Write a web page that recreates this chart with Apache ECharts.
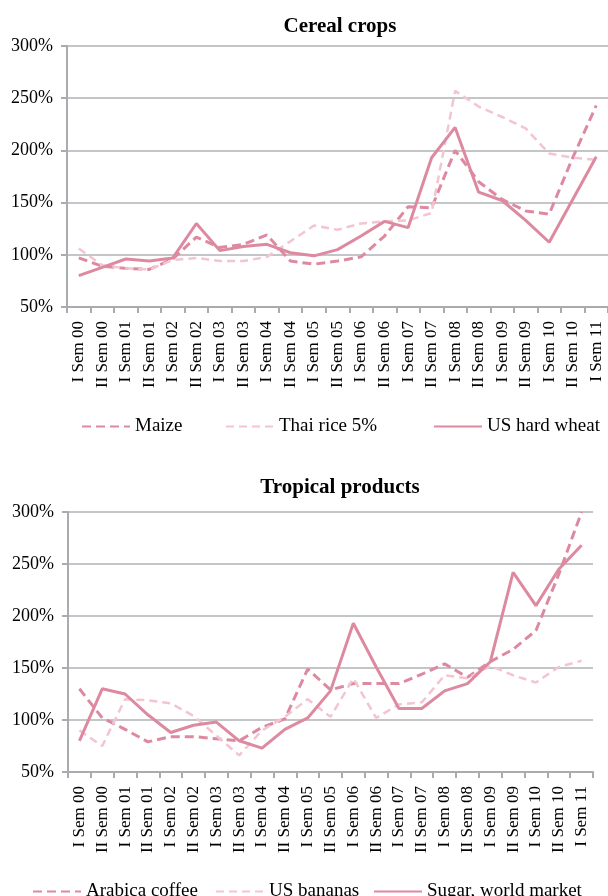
<!DOCTYPE html>
<html>
<head>
<meta charset="utf-8">
<script src="https://cdn.jsdelivr.net/npm/echarts@6/dist/echarts.min.js"></script>
<style>
html,body{margin:0;padding:0;background:#fff;}
#chart{width:608px;height:896px;}
</style>
</head>
<body>
<div id="chart"></div>
<script>
const categories = ['I Sem 00','II Sem 00','I Sem 01','II Sem 01','I Sem 02','II Sem 02','I Sem 03','II Sem 03','I Sem 04','II Sem 04','I Sem 05','II Sem 05','I Sem 06','II Sem 06','I Sem 07','II Sem 07','I Sem 08','II Sem 08','I Sem 09','II Sem 09','I Sem 10','II Sem 10','I Sem 11'];
const yTicks = [50, 100, 150, 200, 250, 300];

const cerealTitle = 'Cereal crops';
const maize = [97, 89, 87, 86, 96, 117, 107, 110, 119, 94, 91, 94, 98, 118, 146, 145, 200, 170, 153, 142, 139, 193, 243];
const thaiRice = [106, 90, 87, 86, 95, 97, 94, 94, 98, 113, 128, 124, 130, 132, 133, 140, 257, 242, 232, 221, 197, 193, 191];
const usWheat = [80, 88, 96, 94, 97, 130, 104, 108, 110, 102, 99, 105, 118, 132, 126, 193, 222, 160, 152, 133, 112, 153, 194];

const tropicalTitle = 'Tropical products';
const arabica = [130, 102, 91, 79, 84, 84, 82, 80, 93, 101, 149, 129, 135, 135, 135, 144, 154, 141, 156, 168, 186, 240, 300];
const bananas = [90, 75, 120, 119, 116, 104, 85, 66, 90, 103, 120, 103, 140, 102, 115, 117, 143, 140, 152, 143, 136, 151, 157];
const sugar = [80, 130, 125, 105, 88, 95, 98, 80, 73, 91, 102, 128, 193, 151, 111, 111, 128, 135, 156, 242, 210, 245, 268];

const FONT = 'Liberation Serif';
const DARK = '#dd8aa1';
const LIGHT = '#f3c4d1';

function xAxis(gridIndex) {
  return {
    type: 'category', gridIndex, data: categories, boundaryGap: true,
    axisLine: {lineStyle: {color: '#a9abae', width: 2}},
    axisTick: {show: true, interval: 0, length: 6, lineStyle: {color: '#a9abae', width: 2}},
    axisLabel: {interval: 0, rotate: 90, margin: 14, color: '#000', fontFamily: FONT, fontSize: 17}
  };
}
function yAxis(gridIndex) {
  return {
    type: 'value', gridIndex, min: yTicks[0], max: yTicks[yTicks.length - 1], interval: 50,
    axisLine: {show: true, lineStyle: {color: '#a9abae', width: 2}},
    axisTick: {show: true, length: 6, lineStyle: {color: '#a9abae', width: 2}},
    splitLine: {lineStyle: {color: '#c3c5c8', width: 2}},
    axisLabel: {formatter: '{value}%', margin: 14, color: '#000', fontFamily: FONT, fontSize: 18}
  };
}
function line(name, data, idx, kind) {
  const ls = kind === 'solid' ? {color: DARK, width: 3, type: 'solid'}
    : kind === 'dark' ? {color: DARK, width: 3, type: [9, 5]}
    : {color: LIGHT, width: 2.5, type: [8, 5]};
  return {
    name, type: 'line', data, xAxisIndex: idx, yAxisIndex: idx,
    symbol: 'none', showSymbol: false, lineStyle: ls, itemStyle: {color: ls.color},
    emphasis: {disabled: true}, animation: false
  };
}
function legend(name, left, top) {
  return {
    data: [name], left, top, itemWidth: 48, itemHeight: 14, itemGap: 4,
    itemStyle: {opacity: 0, borderWidth: 0},
    textStyle: {fontFamily: FONT, fontSize: 19, color: '#000'}
  };
}

const chart = echarts.init(document.getElementById('chart'), null, {renderer: 'canvas'});
chart.setOption({
  animation: false,
  backgroundColor: '#fff',
  title: [
    {text: cerealTitle, left: 335, top: 11, textAlign: 'center',
     textStyle: {fontFamily: FONT, fontSize: 21, fontWeight: 'bold', color: '#000'}},
    {text: tropicalTitle, left: 335, top: 472, textAlign: 'center',
     textStyle: {fontFamily: FONT, fontSize: 21, fontWeight: 'bold', color: '#000'}}
  ],
  legend: [
    legend('Maize', 76, 412),
    legend('Thai rice 5%', 220, 412),
    legend('US hard wheat', 428, 412),
    legend('Arabica coffee', 27, 877),
    legend('US bananas', 210, 877),
    legend('Sugar, world market', 368, 877)
  ],
  grid: [
    {left: 67, top: 46, width: 541, height: 261, containLabel: false},
    {left: 68, top: 512, width: 525, height: 260, containLabel: false}
  ],
  xAxis: [xAxis(0), xAxis(1)],
  yAxis: [yAxis(0), yAxis(1)],
  series: [
    line('Maize', maize, 0, 'dark'),
    line('Thai rice 5%', thaiRice, 0, 'light'),
    line('US hard wheat', usWheat, 0, 'solid'),
    line('Arabica coffee', arabica, 1, 'dark'),
    line('US bananas', bananas, 1, 'light'),
    line('Sugar, world market', sugar, 1, 'solid')
  ]
});
</script>
</body>
</html>
